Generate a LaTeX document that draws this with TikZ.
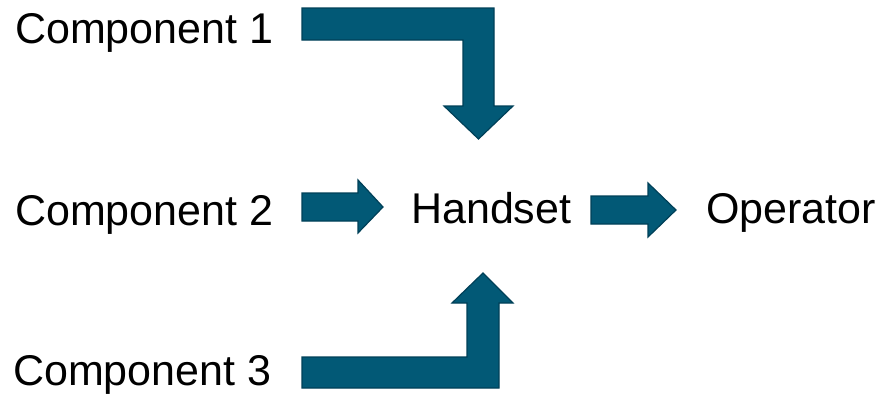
\documentclass[tikz,border=0pt]{standalone}
\usepackage{fontspec}
\setmainfont{Liberation Sans}
\definecolor{arrowfill}{RGB}{2,89,118}
\definecolor{arrowline}{RGB}{0,64,88}
\tikzset{
  label/.style={anchor=base west, inner sep=0pt, font=\fontsize{43}{50}\selectfont},
  blockarrow/.style={fill=arrowfill, draw=arrowline, line width=1.2pt, line join=miter},
}
\begin{document}
\begin{tikzpicture}[x=1pt, y=-1pt]
\useasboundingbox (0,0) rectangle (881,394);
% inputs, handset and operator
\node[label] (comp1) at (15,43) {Component 1};
\node[label] (comp2) at (15,225) {Component 2};
\node[label] (comp3) at (13,385) {Component 3};
\node[label] (handset) at (411,223) {Handset};
\node[label] (operator) at (706,223) {Operator};
% bent arrow from the top
\draw[blockarrow] (302,8) -- (494,8) -- (494,106) -- (513,106) -- (478.5,139)
  -- (444,106) -- (463,106) -- (463,40) -- (302,40) -- cycle;
% straight arrows
\draw[blockarrow] (302,193) -- (358,193) -- (358,180) -- (383,207) -- (358,233)
  -- (358,221) -- (302,221) -- cycle;
\draw[blockarrow] (591,196) -- (648,196) -- (648,183) -- (676,210) -- (648,237)
  -- (648,224) -- (591,224) -- cycle;
% bent arrow from the bottom
\draw[blockarrow] (302,388) -- (499,388) -- (499,303) -- (513,303) -- (483,273)
  -- (452,303) -- (467,303) -- (467,357) -- (302,357) -- cycle;
\end{tikzpicture}
\end{document}
